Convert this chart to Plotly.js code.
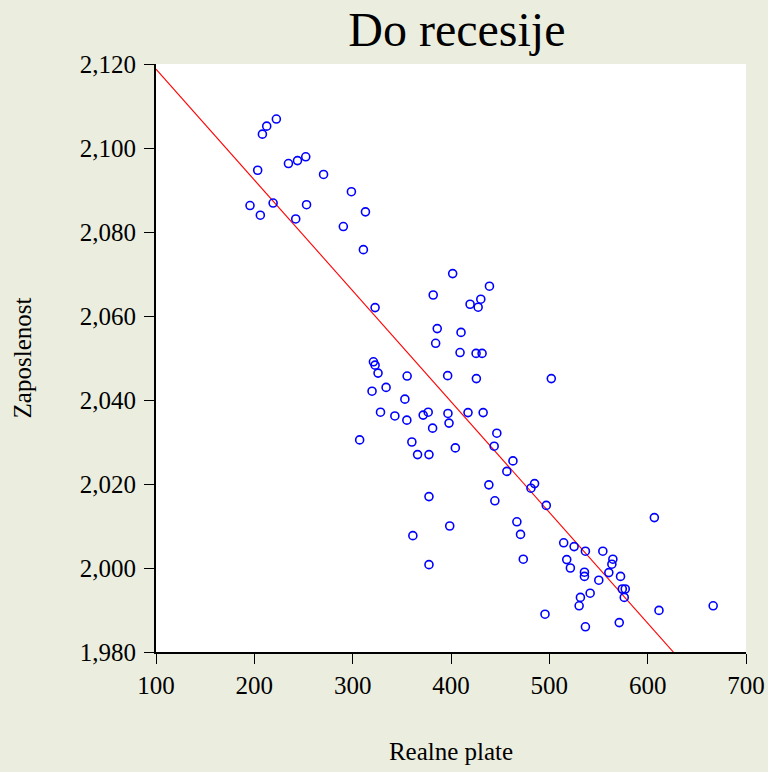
<!DOCTYPE html>
<html>
<head>
<meta charset="utf-8">
<script src="https://cdn.plot.ly/plotly-3.0.1.min.js"></script>
<style>
  html, body { margin: 0; padding: 0; background: rgb(235,238,222); }
  #chart { width: 768px; height: 772px; }
</style>
</head>
<body>
<div id="chart"></div>
<script>
// Realne plate (x) values
const realnePlate = [
  222.4, 212.6, 208.2, 252.3, 243.9, 234.7, 203.4, 270.4, 195.6, 219.1,
  253.1, 206.1, 242.1, 298.7, 313.0, 290.5, 310.9, 401.7, 439.1, 381.9,
  430.3, 419.4, 427.6, 322.8, 386.0, 410.2, 384.4, 409.2, 425.5, 431.6,
  321.1, 322.8, 325.8, 355.4, 396.6, 425.8, 334.0, 319.7, 353.1, 328.3,
  342.9, 355.1, 371.7, 376.8, 396.9, 417.3, 432.7, 398.0, 381.3, 446.6,
  307.1, 360.2, 366.0, 377.6, 404.4, 443.9, 463.0, 456.8, 502.0, 438.5,
  485.0, 481.3, 377.6, 444.6, 496.9, 398.7, 467.0, 470.7, 606.8, 514.6,
  525.2, 536.7, 554.4, 377.6, 473.5, 517.7, 521.4, 564.6, 563.6, 560.5,
  535.7, 535.7, 572.4, 550.3, 574.2, 577.2, 576.2, 541.5, 531.6, 530.3,
  611.5, 666.6, 495.6, 571.1, 536.7, 361.2
];
// Zaposlenost (y) values
const zaposlenost = [
  2106.9, 2105.2, 2103.3, 2097.9, 2097.0, 2096.3, 2094.7, 2093.7, 2086.3, 2086.9,
  2086.5, 2084.0, 2083.1, 2089.6, 2084.8, 2081.3, 2075.8, 2070.1, 2067.1, 2065.0,
  2064.0, 2062.8, 2062.1, 2062.0, 2057.0, 2056.1, 2053.5, 2051.3, 2051.1, 2051.1,
  2049.1, 2048.3, 2046.4, 2045.7, 2045.8, 2045.1, 2043.0, 2042.1, 2040.2, 2037.1,
  2036.2, 2035.2, 2036.4, 2037.1, 2036.8, 2037.0, 2037.0, 2034.5, 2033.3, 2032.1,
  2030.5, 2030.0, 2027.0, 2027.0, 2028.6, 2029.0, 2025.5, 2023.0, 2045.1, 2019.8,
  2020.1, 2019.0, 2017.0, 2016.0, 2014.9, 2010.0, 2011.0, 2008.0, 2012.0, 2006.0,
  2005.1, 2004.0, 2004.0, 2000.8, 2002.1, 2002.0, 2000.0, 2002.1, 2000.9, 1998.9,
  1999.0, 1998.0, 1998.0, 1997.1, 1995.0, 1995.0, 1993.0, 1994.0, 1993.0, 1991.0,
  1989.9, 1991.0, 1989.0, 1987.0, 1986.0, 2007.7
];
const xTicks = [100, 200, 300, 400, 500, 600, 700];
const yTicks = [1980, 2000, 2020, 2040, 2060, 2080, 2100, 2120];

// Least-squares fit line from the data
const n = realnePlate.length;
const mx = realnePlate.reduce((a, b) => a + b, 0) / n;
const my = zaposlenost.reduce((a, b) => a + b, 0) / n;
let sxy = 0, sxx = 0;
for (let i = 0; i < n; i++) {
  sxy += (realnePlate[i] - mx) * (zaposlenost[i] - my);
  sxx += (realnePlate[i] - mx) * (realnePlate[i] - mx);
}
const slope = sxy / sxx;
const intercept = my - slope * mx;
const fitX = [xTicks[0], xTicks[xTicks.length - 1]];
const fitY = fitX.map(v => intercept + slope * v);

const font = "'Liberation Serif', 'Times New Roman', serif";

const data = [
  {
    x: fitX, y: fitY, type: 'scatter', mode: 'lines',
    line: { color: '#FF0000', width: 1.1 }, hoverinfo: 'skip'
  },
  {
    x: realnePlate, y: zaposlenost, type: 'scatter', mode: 'markers',
    marker: { symbol: 'circle-open', size: 8, color: '#0000FF', line: { width: 1.6, color: '#0000FF' } }
  }
];

const layout = {
  width: 768, height: 772,
  paper_bgcolor: 'rgb(235,238,222)',
  plot_bgcolor: '#FFFFFF',
  showlegend: false,
  margin: { l: 156, r: 22, t: 64, b: 120 },
  font: { family: font, color: '#000000' },
  title: {
    text: 'Do recesije',
    font: { family: font, size: 48, color: '#000000' },
    x: 0.51, xref: 'paper', xanchor: 'center',
    y: 0.962, yref: 'container', yanchor: 'middle'
  },
  xaxis: {
    range: [100, 700], tickvals: xTicks, ticktext: xTicks.map(String),
    showgrid: false, zeroline: false, showline: true, linecolor: '#000000', linewidth: 2,
    ticks: 'outside', ticklen: 10, tickwidth: 1, tickcolor: '#000000',
    tickfont: { family: font, size: 25, color: '#000000' },
    title: { text: 'Realne plate', font: { family: font, size: 25, color: '#000000' }, standoff: 44 }
  },
  yaxis: {
    range: [1980, 2120], tickvals: yTicks, tickformat: ',d',
    showgrid: false, zeroline: false, showline: true, linecolor: '#000000', linewidth: 2,
    ticks: 'outside', ticklen: 10, tickwidth: 1, tickcolor: '#000000',
    ticklabelstandoff: 3,
    tickfont: { family: font, size: 25, color: '#000000' },
    title: { text: 'Zaposlenost', font: { family: font, size: 25, color: '#000000' }, standoff: 41 }
  }
};

Plotly.newPlot('chart', data, layout, { staticPlot: true, displayModeBar: false });
</script>
</body>
</html>
